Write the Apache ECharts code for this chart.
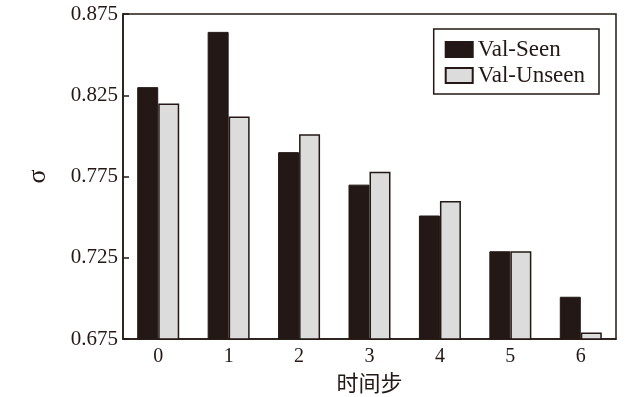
<!DOCTYPE html>
<html>
<head>
<meta charset="utf-8">
<script src="https://cdn.jsdelivr.net/npm/echarts@6/dist/echarts.min.js"></script>
<style>
  html, body { margin: 0; padding: 0; background: #fff; }
  #chart { width: 633px; height: 397px; }
</style>
</head>
<body>
<div id="chart"></div>
<script>
// 时间步
var steps = ['0', '1', '2', '3', '4', '5', '6'];
var valSeen = [0.830, 0.864, 0.790, 0.770, 0.751, 0.729, 0.701];
var valUnseen = [0.820, 0.812, 0.801, 0.778, 0.760, 0.729, 0.679];

var serif = '"Liberation Serif", "Times New Roman", serif';
var dark = '#231815';

var chart = echarts.init(document.getElementById('chart'));
chart.setOption({
  animation: false,
  grid: {
    left: 123,
    top: 14,
    right: 17,
    bottom: 58,
    outerBoundsMode: 'none',
    show: true,
    borderColor: dark,
    borderWidth: 1.5
  },
  legend: {
    orient: 'vertical',
    right: 34,
    top: 29,
    icon: 'rect',
    itemWidth: 27,
    itemHeight: 15,
    itemGap: 3,
    padding: [9, 14, 7, 11],
    borderColor: dark,
    borderWidth: 1.5,
    textStyle: { fontFamily: serif, fontSize: 23, color: dark },
    data: ['Val-Seen', 'Val-Unseen']
  },
  xAxis: {
    type: 'category',
    data: steps,
    name: '时间步',
    nameLocation: 'middle',
    nameGap: 31,
    nameTextStyle: { fontFamily: '"Noto Sans CJK SC", sans-serif', fontSize: 22, color: dark },
    axisLine: { lineStyle: { color: dark, width: 1.5 } },
    axisTick: { show: false },
    axisLabel: { fontFamily: serif, fontSize: 20, color: dark, margin: 8 }
  },
  yAxis: {
    type: 'value',
    min: 0.675,
    max: 0.875,
    interval: 0.05,
    name: 'σ',
    nameLocation: 'middle',
    nameGap: 72,
    nameTextStyle: { fontFamily: serif, fontSize: 26, color: dark },
    axisLine: { show: true, lineStyle: { color: dark, width: 1.5 } },
    axisTick: { show: true, inside: true, length: 6, lineStyle: { color: dark, width: 1.5 } },
    splitLine: { show: false },
    axisLabel: {
      fontFamily: serif, fontSize: 21, color: dark, margin: 5,
      formatter: function (v) { return v.toFixed(3); }
    }
  },
  series: [
    {
      name: 'Val-Seen',
      type: 'bar',
      data: valSeen,
      barWidth: 21,
      barGap: '0%',
      itemStyle: { color: dark, borderColor: dark, borderWidth: 1 }
    },
    {
      name: 'Val-Unseen',
      type: 'bar',
      data: valUnseen,
      barWidth: 21,
      itemStyle: { color: '#dcdcdc', borderColor: dark, borderWidth: 1.5 }
    }
  ]
});
</script>
</body>
</html>
